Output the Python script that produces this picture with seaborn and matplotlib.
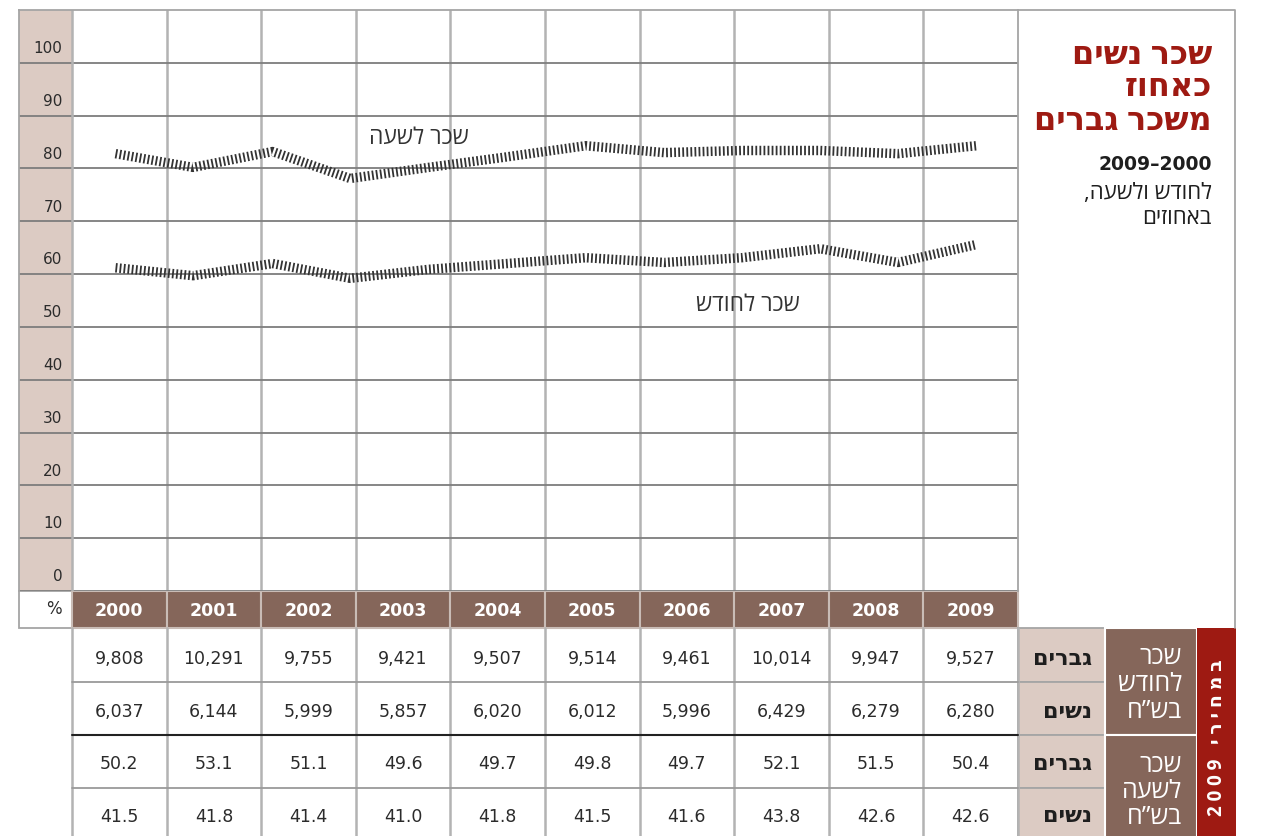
import numpy as np
import pandas as pd
import matplotlib
matplotlib.use("Agg")
import matplotlib.pyplot as plt
from matplotlib.patches import Rectangle
import seaborn as sns

# data
years = [2000, 2001, 2002, 2003, 2004, 2005, 2006, 2007, 2008, 2009]
line_x = [1999.96, 2000.78, 2001.62, 2002.44, 2003.27, 2004.10,
          2004.93, 2005.76, 2006.58, 2007.41, 2008.23, 2009.06]
hourly_pct = [82.8, 80.2, 83.2, 78.1, 80.2, 82.2, 84.3, 83.0, 83.4, 83.4, 82.8, 84.3]
monthly_pct = [61.2, 59.7, 62.0, 59.2, 60.9, 62.0, 63.1, 62.2, 63.1, 64.8, 62.2, 65.6]

men_month = ["9,808", "10,291", "9,755", "9,421", "9,507", "9,514", "9,461", "10,014", "9,947", "9,527"]
women_month = ["6,037", "6,144", "5,999", "5,857", "6,020", "6,012", "5,996", "6,429", "6,279", "6,280"]
men_hour = ["50.2", "53.1", "51.1", "49.6", "49.7", "49.8", "49.7", "52.1", "51.5", "50.4"]
women_hour = ["41.5", "41.8", "41.4", "41.0", "41.8", "41.5", "41.6", "43.8", "42.6", "42.6"]
y_ticks = [0, 10, 20, 30, 40, 50, 60, 70, 80, 90, 100]

BROWN = "#85665a"
PINK = "#dccbc3"
RED = "#9e1a12"
GRID_V = "#b3b3b3"
GRID_H = "#7d7d7d"
TXT = "#2b2b2b"
NUM = ['DejaVu Sans']          # digits: wide face like the original
HEB = ['Open Sans', 'DejaVu Sans']


def heb(s):
    # matplotlib has no bidi support, so reverse Hebrew strings for display
    return s[::-1]


sns.set_theme(style="white")
plt.rcParams['font.family'] = HEB

W, H = 1263, 836
fig = plt.figure(figsize=(W / 100, H / 100), dpi=100)

# background axes in pixel coords for the table and text panel
bg = fig.add_axes([0, 0, 1, 1])
bg.set_xlim(0, W)
bg.set_ylim(H, 0)
bg.axis('off')

left, pink_w, col_w = 19, 53, 94.6
plot_l = left + pink_w
plot_r = plot_l + 10 * col_w
top, bottom = 10, 591

# main chart axes (pink label column included)
ax = fig.add_axes([left / W, (H - bottom) / H, (plot_r - left) / W, (bottom - top) / H])
ax.set_xlim(1999.5 - pink_w / col_w, 2009.5)
ax.set_ylim(0, 110)
ax.axvspan(1999.5 - pink_w / col_w, 1999.5, color=PINK, zorder=0, lw=0)

df = pd.DataFrame({"x": line_x * 2,
                   "pct": hourly_pct + monthly_pct,
                   "series": ["hour"] * len(line_x) + ["month"] * len(line_x)})
sns.lineplot(data=df, x="x", y="pct", units="series", estimator=None,
             color="#333333", lw=6.8, ax=ax, zorder=3)
for ln in ax.lines:
    ln.set_linestyle((0, (0.19, 0.24)))
    ln.set_dash_capstyle('butt')

ax.set_yticks(y_ticks)
ax.set_xticks([1999.5 + k for k in range(1, 10)])
ax.yaxis.grid(True, color=GRID_H, lw=1.3, zorder=1)
ax.xaxis.grid(True, color=GRID_V, lw=1.8, zorder=1)
ax.axvline(1999.5, color=GRID_V, lw=1.8, zorder=1)
ax.tick_params(length=0, labelleft=False, labelbottom=False)
ax.set_xlabel("")
ax.set_ylabel("")
for s in ax.spines.values():
    s.set_color("#a5a5a5")
    s.set_linewidth(1.3)
ax.spines['bottom'].set_visible(False)

for v in y_ticks:
    ax.text(1999.40, v + 2.7, str(v), ha='right', va='center', fontsize=11,
            color=TXT, family=NUM)

ax.text(2003.17, 85.8, heb("שכר לשעה"), ha='center', va='center', fontsize=16.5, color="#333333")
ax.text(2006.64, 54.2, heb("שכר לחודש"), ha='center', va='center', fontsize=16.5, color="#333333")

# right title panel
bg.plot([plot_r, W - 28, W - 28], [top, top, 628], color="#a5a5a5", lw=1.3)
title = ["שכר נשים", "כאחוז", "משכר גברים"]
for i, t in enumerate(title):
    bg.text(1212, 55 + i * 33, heb(t), ha='right', va='center', fontsize=23,
            fontweight='bold', color=RED)
bg.text(1212, 164, "2009–2000", ha='right', va='center', fontsize=13.5,
        fontweight='bold', color="#1e1e1e", family=NUM)
bg.text(1212, 193, heb("לחודש ולשעה,"), ha='right', va='center', fontsize=16, color="#1e1e1e")
bg.text(1212, 219, heb("באחוזים"), ha='right', va='center', fontsize=16, color="#1e1e1e")

# year header row
hdr_t, hdr_b = 591, 628
bg.add_patch(Rectangle((left, hdr_t), pink_w, hdr_b - hdr_t, facecolor="white",
                       edgecolor="#a5a5a5", lw=1.3))
bg.text(62, (hdr_t + hdr_b) / 2, "%", ha='right', va='center', fontsize=12,
        color=TXT, family=NUM)
for i, yr in enumerate(years):
    x0 = plot_l + i * col_w
    bg.add_patch(Rectangle((x0, hdr_t), col_w, hdr_b - hdr_t, facecolor=BROWN,
                           edgecolor="#c9bcb6", lw=1.5))
    bg.text(x0 + col_w / 2, (hdr_t + hdr_b) / 2 + 1.5, yr, ha='center', va='center',
            fontsize=12.5, fontweight='bold', color="white", family=NUM)

# data table
rows = [men_month, women_month, men_hour, women_hour]
row_edges = [628, 682, 735, 788, 841]
row_mid = [659, 712, 764, 817]
for r, vals in enumerate(rows):
    for i, v in enumerate(vals):
        bg.text(plot_l + i * col_w + col_w / 2, row_mid[r], v, ha='center', va='center',
                fontsize=12.5, color=TXT, family=NUM)
for k in range(11):
    xk = plot_l + k * col_w
    bg.plot([xk, xk], [628, H], color=GRID_V, lw=1.8)
for yk in [682, 788]:
    bg.plot([plot_l, plot_r], [yk, yk], color="#9a9a9a", lw=1.3)
bg.plot([plot_l, plot_r], [735, 735], color="#222222", lw=1.5)

# row labels on the right
lab_l, lab_r = plot_r, 1105
grp_r = 1197
for r in range(4):
    y0 = row_edges[r]
    bg.add_patch(Rectangle((lab_l, y0), lab_r - lab_l, row_edges[r + 1] - y0,
                           facecolor=PINK, edgecolor="#a5a5a5", lw=1.3))
    lab = "גברים" if r % 2 == 0 else "נשים"
    bg.text(1092, row_mid[r], heb(lab), ha='right', va='center',
            fontsize=16, fontweight='bold', color="#1e1e1e")

groups = [["שכר", "לחודש", "בש”ח"], ["שכר", "לשעה", "בש”ח"]]
for g, lines in enumerate(groups):
    y0 = row_edges[2 * g]
    y1 = row_edges[2 * g + 2]
    bg.add_patch(Rectangle((lab_r, y0), grp_r - lab_r, y1 - y0, facecolor=BROWN,
                           edgecolor="white", lw=1.5))
    for j, t in enumerate(lines):
        bg.text(1182, y0 + 30 + j * 26.5, heb(t), ha='right', va='center',
                fontsize=18, color="white")

bg.add_patch(Rectangle((grp_r, 628), 39, H - 628, facecolor=RED, lw=0))
bg.text(grp_r + 19.5, 738, "2 0 0 9   " + " ".join(heb("במחירי")), rotation=90,
        ha='center', va='center', fontsize=13.5, fontweight='bold', color="white")

fig.savefig("out.png", dpi=100)
